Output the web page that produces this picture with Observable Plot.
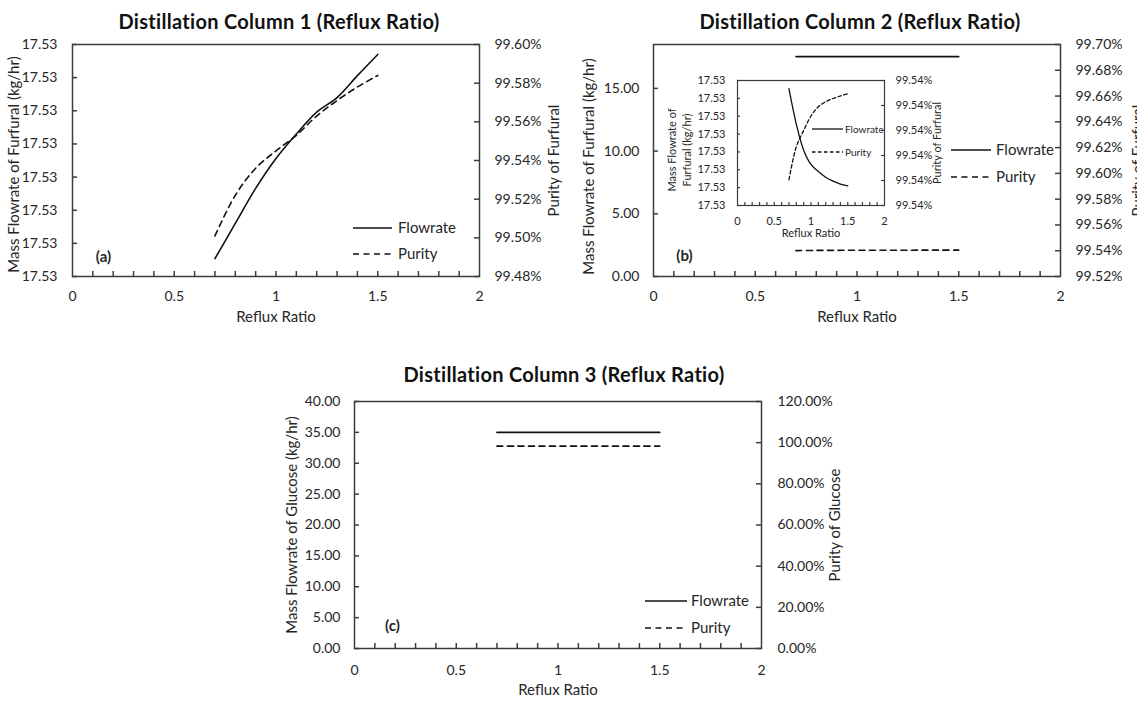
<!DOCTYPE html>
<html>
<head>
<meta charset="utf-8">
<script src="https://cdn.jsdelivr.net/npm/d3@7"></script>
<script src="https://cdn.jsdelivr.net/npm/@observablehq/plot@0.6"></script>
<style>
  html, body { margin: 0; padding: 0; }
  body { width: 1137px; height: 701px; overflow: hidden; background: #fff; position: relative; font-family: Lato, "Open Sans", sans-serif; }
  .title { position: absolute; transform: translate(-50%, -50%); white-space: nowrap; font-weight: 700; font-size: 20px; letter-spacing: 0.3px; color: #111; }
</style>
</head>
<body>
<script>
// ---------------- data ----------------
const refluxRatio = [0.7, 0.8, 0.9, 1.0, 1.1, 1.2, 1.3, 1.4, 1.5];

// Distillation column 1 (furfural)
const col1Flowrate = [17.53027, 17.53080, 17.53133, 17.53178, 17.53215, 17.53248, 17.53270, 17.53303, 17.53335];
const col1Purity   = [99.501, 99.522, 99.536, 99.545, 99.553, 99.563, 99.571, 99.578, 99.584];

// Distillation column 2 (furfural) - main chart and inset
const col2Flowrate = [17.53327, 17.53228, 17.53155, 17.53115, 17.53095, 17.53079, 17.53068, 17.53060, 17.53055];
const col2Purity   = [99.540103, 99.540235, 99.540300, 99.540358, 99.540395, 99.540415, 99.540428, 99.540438, 99.540447];

// Distillation column 3 (glucose)
const col3Flowrate = [35.0, 35.0, 35.0, 35.0, 35.0, 35.0, 35.0, 35.0, 35.0];
const col3Purity   = [98.3, 98.3, 98.3, 98.3, 98.3, 98.3, 98.3, 98.3, 98.3];

// tick values
const xTickLabels = [0, 0.5, 1, 1.5, 2];
const xMinorTicks = [0.1, 0.2, 0.3, 0.4, 0.5, 0.6, 0.7, 0.8, 0.9, 1.0, 1.1, 1.2, 1.3, 1.4, 1.5, 1.6, 1.7, 1.8, 1.9];
const col1FlowTicks = [17.5300, 17.5305, 17.5310, 17.5315, 17.5320, 17.5325, 17.5330, 17.5335];
const col1PurityTicks = [99.48, 99.50, 99.52, 99.54, 99.56, 99.58, 99.60];
const col2FlowTicks = [0, 5, 10, 15];
const col2PurityTicks = [99.52, 99.54, 99.56, 99.58, 99.60, 99.62, 99.64, 99.66, 99.68, 99.70];
const insetFlowTicks = [17.5300, 17.5305, 17.5310, 17.5315, 17.5320, 17.5325, 17.5330, 17.5335];
const insetPurityTicks = [99.5400, 99.5401, 99.5402, 99.5403, 99.5404, 99.5405];
const col3FlowTicks = [0, 5, 10, 15, 20, 25, 30, 35, 40];
const col3PurityTicks = [0, 20, 40, 60, 80, 100, 120];

// ---------------- drawing ----------------
const INK = "#111";
const TXT = "#262626";
const FRAME = "#3c3c3c";
const FONT = "Lato, 'Open Sans', sans-serif";
const fmt2 = d => d.toFixed(2);
const pct2 = d => d.toFixed(2) + "%";

function layer(o) {
  const pw = o.w - o.ml - o.mr, ph = o.h - o.mt - o.mb;
  const rows = refluxRatio.map((x, i) => ({x, y: o.values[i]}));
  const marks = [];
  if (o.primary) {
    marks.push(Plot.tickX(xMinorTicks, {x: d => d, insetTop: ph - o.tl, stroke: FRAME, strokeWidth: o.fw}));
  }
  const tickOpts = {y: d => d, stroke: FRAME, strokeWidth: o.fw};
  if (o.side === "left") tickOpts.insetRight = pw - o.tl; else tickOpts.insetLeft = pw - o.tl;
  marks.push(Plot.tickY(o.ticks, tickOpts));
  marks.push(Plot.line(rows, {x: "x", y: "y", stroke: INK, strokeWidth: o.sw, strokeDasharray: o.dash, curve: "catmull-rom"}));
  if (o.primary) marks.push(Plot.frame({stroke: FRAME, strokeWidth: o.fw}));
  for (const t of (o.texts || [])) {
    marks.push(Plot.text([t.text], {
      text: d => d, frameAnchor: t.anchor, dx: t.dx || 0, dy: t.dy || 0,
      textAnchor: "middle", lineAnchor: "middle",
      rotate: t.rotate || 0, fontSize: t.size, fontWeight: t.weight || "normal",
      lineHeight: t.lh || 1, fill: TXT
    }));
  }
  const svg = Plot.plot({
    width: o.w, height: o.h,
    marginLeft: o.ml, marginRight: o.mr, marginTop: o.mt, marginBottom: o.mb,
    style: {background: "transparent", fontFamily: FONT, fontSize: o.fs + "px", color: TXT, overflow: "visible", maxWidth: "none"},
    x: {domain: [0, 2], ticks: xTickLabels, tickFormat: d => String(d), tickSize: 0, tickPadding: o.xpad, label: null, axis: o.primary ? "bottom" : null},
    y: {domain: o.domain, ticks: o.ticks, tickFormat: o.fmt, tickSize: 0, tickPadding: o.ypad, label: null, axis: o.side},
    marks
  });
  svg.style.position = "absolute";
  svg.style.left = o.left + "px";
  svg.style.top = o.top + "px";
  document.body.appendChild(svg);
}

const main = {fs: 14, tl: 5, fw: 1.5, sw: 1.6, xpad: 15};
const solid = null, dashed = "6,4.5";

// Panel (a)
const boxA = {left: 0, top: 30, w: 575, h: 300, ml: 72, mr: 96, mt: 14, mb: 54};
layer({...main, ...boxA, primary: true, side: "left", values: col1Flowrate, domain: [17.53, 17.5335], ticks: col1FlowTicks, fmt: fmt2, ypad: 15, dash: solid,
  texts: [
    {text: "Mass Flowrate of Furfural (kg/hr)", anchor: "left", dx: -58, dy: 4, rotate: -90, size: 15},
    {text: "Reflux Ratio", anchor: "bottom", dy: 41, size: 15},
    {text: "(a)", anchor: "bottom-left", dx: 31, dy: -19, size: 15, weight: "bold"}
  ]});
layer({...main, ...boxA, primary: false, side: "right", values: col1Purity, domain: [99.48, 99.60], ticks: col1PurityTicks, fmt: pct2, ypad: 15, dash: dashed,
  texts: [{text: "Purity of Furfural", anchor: "right", dx: 75, rotate: -90, size: 15}]});

// Panel (b)
const boxB = {left: 575, top: 30, w: 562, h: 300, ml: 78, mr: 77, mt: 14, mb: 54};
layer({...main, ...boxB, primary: true, side: "left", values: col2Flowrate, domain: [0, 18.5], ticks: col2FlowTicks, fmt: fmt2, ypad: 14, dash: solid,
  texts: [
    {text: "Mass Flowrate of Furfural (kg/hr)", anchor: "left", dx: -64, dy: 6, rotate: -90, size: 15},
    {text: "Reflux Ratio", anchor: "bottom", dy: 41, size: 15},
    {text: "(b)", anchor: "bottom-left", dx: 31, dy: -20, size: 15, weight: "bold"}
  ]});
layer({...main, ...boxB, primary: false, side: "right", values: col2Purity, domain: [99.52, 99.70], ticks: col2PurityTicks, fmt: pct2, ypad: 15, dash: dashed,
  texts: [{text: "Purity of Furfural", anchor: "right", dx: 78, rotate: -90, size: 15}]});

// Inset of panel (b)
const inset = {fs: 11, tl: 3, fw: 1.2, sw: 1.3, xpad: 12};
const boxI = {left: 660, top: 70, w: 290, h: 175, ml: 77, mr: 66, mt: 10, mb: 40};
layer({...inset, ...boxI, primary: true, side: "left", values: col2Flowrate, domain: [17.53, 17.5335], ticks: insetFlowTicks, fmt: fmt2, ypad: 12, dash: solid,
  texts: [
    {text: "Mass Flowrate of\nFurfural (kg/hr)", anchor: "left", dx: -59, dy: 7, rotate: -90, size: 11, lh: 1.35},
    {text: "Reflux Ratio", anchor: "bottom", dy: 28, size: 11}
  ]});
layer({...inset, ...boxI, primary: false, side: "right", values: col2Purity, domain: [99.54, 99.5405], ticks: insetPurityTicks, fmt: pct2, ypad: 11, dash: "3.5,2.5",
  texts: [{text: "Purity of Furfural", anchor: "right", dx: 53, rotate: -90, size: 11}]});

// Panel (c)
const boxC = {left: 280, top: 380, w: 600, h: 321, ml: 74, mr: 119, mt: 21, mb: 53};
layer({...main, ...boxC, xpad: 17, primary: true, side: "left", values: col3Flowrate, domain: [0, 40], ticks: col3FlowTicks, fmt: fmt2, ypad: 14, dash: solid,
  texts: [
    {text: "Mass Flowrate of Glucose (kg/hr)", anchor: "left", dx: -62, rotate: -90, size: 15},
    {text: "Reflux Ratio", anchor: "bottom", dy: 42, size: 15},
    {text: "(c)", anchor: "bottom-left", dx: 38, dy: -22, size: 15, weight: "bold"}
  ]});
layer({...main, ...boxC, xpad: 17, primary: false, side: "right", values: col3Purity, domain: [0, 120], ticks: col3PurityTicks, fmt: pct2, ypad: 16, dash: dashed,
  texts: [{text: "Purity of Glucose", anchor: "right", dx: 74, rotate: -90, size: 15}]});

// ---------------- titles ----------------
const titles = [
  {text: "Distillation Column 1 (Reflux Ratio)", x: 279, y: 21},
  {text: "Distillation Column 2 (Reflux Ratio)", x: 860, y: 21},
  {text: "Distillation Column 3 (Reflux Ratio)", x: 564, y: 374}
];
for (const t of titles) {
  const d = document.createElement("div");
  d.className = "title";
  d.textContent = t.text;
  d.style.left = t.x + "px";
  d.style.top = t.y + "px";
  document.body.appendChild(d);
}

// ---------------- legends ----------------
const legends = [
  {x1: 353, x2: 392, tx: 398, y1: 228, y2: 254, fs: 15, sw: 1.6, dash: "6,4.5"},
  {x1: 951, x2: 991, tx: 996, y1: 150, y2: 177, fs: 15, sw: 1.6, dash: "6,4.5"},
  {x1: 645, x2: 687, tx: 691, y1: 601, y2: 628, fs: 15, sw: 1.6, dash: "6,4.5"},
  {x1: 812, x2: 843, tx: 845, y1: 129, y2: 152, fs: 10, sw: 1.3, dash: "3.5,2.5"}
];
const NS = "http://www.w3.org/2000/svg";
const lsvg = document.createElementNS(NS, "svg");
lsvg.setAttribute("width", 1137);
lsvg.setAttribute("height", 701);
lsvg.style.position = "absolute";
lsvg.style.left = "0px";
lsvg.style.top = "0px";
lsvg.style.pointerEvents = "none";
for (const L of legends) {
  for (const [y, label, dash] of [[L.y1, "Flowrate", null], [L.y2, "Purity", L.dash]]) {
    const ln = document.createElementNS(NS, "line");
    ln.setAttribute("x1", L.x1); ln.setAttribute("x2", L.x2);
    ln.setAttribute("y1", y); ln.setAttribute("y2", y);
    ln.setAttribute("stroke", INK); ln.setAttribute("stroke-width", L.sw);
    if (dash) ln.setAttribute("stroke-dasharray", dash);
    lsvg.appendChild(ln);
    const tx = document.createElementNS(NS, "text");
    tx.setAttribute("x", L.tx); tx.setAttribute("y", y);
    tx.setAttribute("dy", "0.35em");
    tx.setAttribute("font-size", L.fs);
    tx.setAttribute("font-family", FONT);
    tx.setAttribute("fill", TXT);
    tx.textContent = label;
    lsvg.appendChild(tx);
  }
}
document.body.appendChild(lsvg);
</script>
</body>
</html>
